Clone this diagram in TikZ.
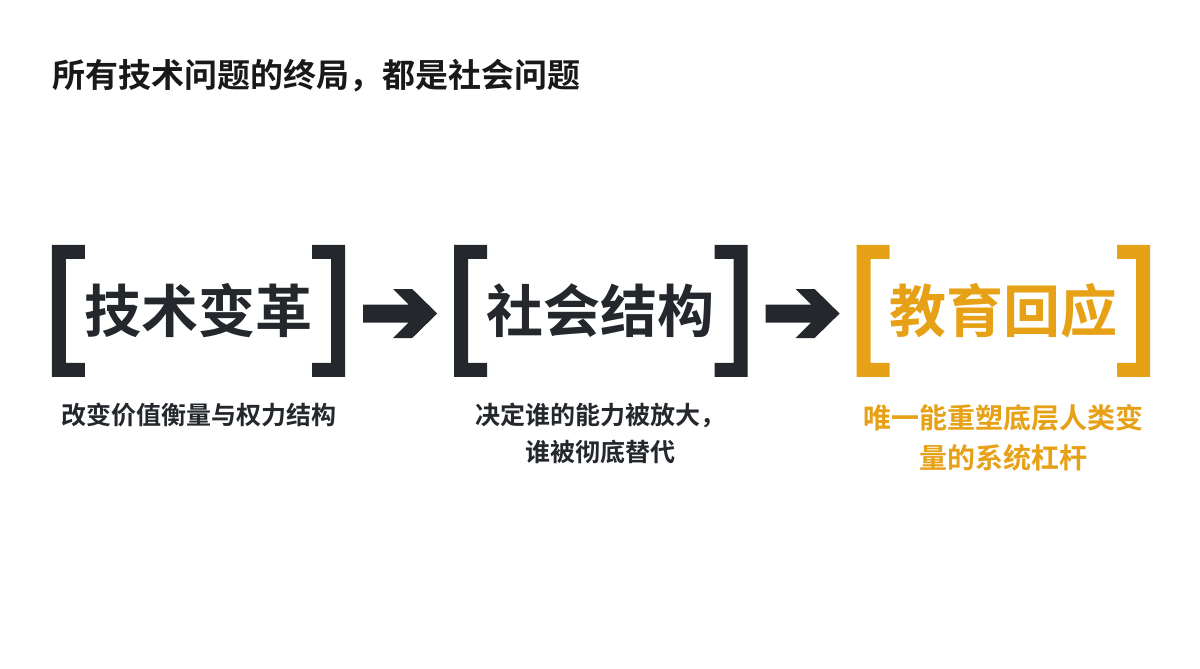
\documentclass[tikz,border=0pt]{standalone}
\usepackage{fontspec}
\setmainfont{Noto Sans CJK SC}[BoldFont=Noto Sans CJK SC Bold]
\usepackage{xcolor}
\usepackage{tikz}
\usetikzlibrary{
	positioning,    % below=of ...
	calc            % punti delle frecce
}

\definecolor{scuro}{HTML}{24282C}
\definecolor{oro}{HTML}{E6A117}

% parentesi quadre attorno a un nodo: {nodo}{colore}
\newcommand{\parentesi}[2]{%
	\fill[#2] (#1.north west) -- ++(33,0) -- ++(0,14) -- ++(-19,0) -- ++(0,104)
	-- ++(19,0) -- ++(0,14) -- ++(-33,0) -- cycle;
	\fill[#2] (#1.north east) -- ++(-33,0) -- ++(0,14) -- ++(19,0) -- ++(0,104)
	-- ++(-19,0) -- ++(0,14) -- ++(33,0) -- cycle;
}
% freccia piena tra due punti: {inizio}{punta}
\newcommand{\freccione}[2]{%
	\fill[scuro] ($(#1)+(0,-9)$) -- ($(#2)+(-28.5,-9)$) -- ($(#2)+(-44,-24.5)$)
	-- ($(#2)+(-25,-24.5)$) -- (#2) -- ($(#2)+(-25,24.5)$) -- ($(#2)+(-44,24.5)$)
	-- ($(#2)+(-28.5,9)$) -- ($(#1)+(0,9)$) -- cycle;
}

\begin{document}
\begin{tikzpicture}[
			x=1pt, y=-1pt,
			scatola/.style={inner sep=0pt, minimum width=293pt, minimum height=132pt,
				font=\bfseries\fontsize{57}{57}\selectfont},
			didascalia/.style={inner sep=0pt, align=center,
				font=\bfseries\fontsize{25}{37}\selectfont, text=scuro}
			]
			\useasboundingbox[fill=white] (0,0) rectangle (1200,669);
			
			% --- Titolo ---
			\node[anchor=west, inner sep=0pt, font=\bfseries\fontsize{33}{33}\selectfont, text=black!90]
			(titolo) at (52,76) {所有技术问题的终局，都是社会问题};
			
			% --- Tre blocchi ---
			\node[scatola, text=scuro] (tecnica) at (198.5,311) {技术变革};
			\node[scatola, text=scuro, right=109pt of tecnica] (societa) {社会结构};
			\node[scatola, text=oro, right=109pt of societa] (educazione) {教育回应};
			
			\parentesi{tecnica}{scuro}
			\parentesi{societa}{scuro}
			\parentesi{educazione}{oro}
			
			% --- Frecce ---
			\coordinate (f1a) at ($(tecnica.east)+(18,2.5)$);
			\coordinate (f1b) at ($(societa.west)+(-17,2.5)$);
			\coordinate (f2a) at ($(societa.east)+(18,2.5)$);
			\coordinate (f2b) at ($(educazione.west)+(-17,2.5)$);
			\freccione{f1a}{f1b}
			\freccione{f2a}{f2b}
			
			% --- Didascalie ---
			\node[didascalia, below=26pt of tecnica] (d1) {改变价值衡量与权力结构};
			\node[didascalia, below=26pt of societa] (d2) {决定谁的能力被放大，\\谁被彻底替代};
			\node[didascalia, below=27pt of educazione, text=oro,
				font=\bfseries\fontsize{28}{40}\selectfont] (d3) {唯一能重塑底层人类变\\量的系统杠杆};
			
		\end{tikzpicture}
\end{document}
